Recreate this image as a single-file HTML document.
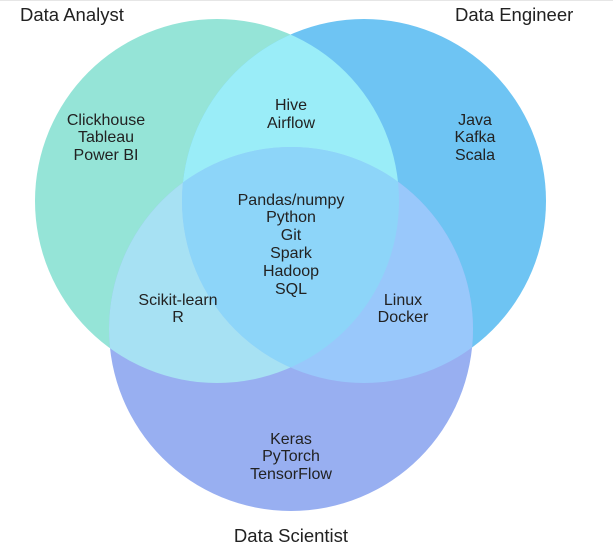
<!DOCTYPE html>
<html><head><style>
html,body{margin:0;padding:0;background:#fff;}
svg{display:block;}
text{font-family:"Liberation Sans",Arial,sans-serif;fill:#222;}
</style></head><body>
<svg width="613" height="548" viewBox="0 0 613 548" xmlns="http://www.w3.org/2000/svg">
<defs>
<clipPath id="cA"><circle cx="217" cy="201" r="182"/></clipPath>
<clipPath id="cE"><circle cx="364" cy="201" r="182"/></clipPath>
<clipPath id="cS"><circle cx="291" cy="329" r="182"/></clipPath>
</defs>
<rect width="613" height="548" fill="#fff"/>
<line x1="0" y1="0.5" x2="613" y2="0.5" stroke="#e6e6e6"/>
<circle cx="217" cy="201" r="182" fill="#95e4d7"/>
<circle cx="364" cy="201" r="182" fill="#6ec4f3"/>
<circle cx="291" cy="329" r="182" fill="#98aff1"/>
<g clip-path="url(#cA)"><circle cx="364" cy="201" r="182" fill="#9aedf8"/></g>
<g clip-path="url(#cA)"><circle cx="291" cy="329" r="182" fill="#a7e1f3"/></g>
<g clip-path="url(#cE)"><circle cx="291" cy="329" r="182" fill="#99c8fb"/></g>
<g clip-path="url(#cA)"><g clip-path="url(#cE)"><circle cx="291" cy="329" r="182" fill="#8dd5f9"/></g></g>
<g font-size="18.5">
<text x="20" y="21">Data Analyst</text>
<text x="455" y="21">Data Engineer</text>
<text x="291" y="542" text-anchor="middle">Data Scientist</text>
</g>
<g font-size="16" text-anchor="middle">
<text x="106" y="125">Clickhouse</text><text x="106" y="142">Tableau</text><text x="106" y="160">Power BI</text>
<text x="291" y="110">Hive</text><text x="291" y="128">Airflow</text>
<text x="475" y="125">Java</text><text x="475" y="142">Kafka</text><text x="475" y="160">Scala</text>
<text x="291" y="205">Pandas/numpy</text><text x="291" y="222">Python</text><text x="291" y="240">Git</text><text x="291" y="258">Spark</text><text x="291" y="276">Hadoop</text><text x="291" y="294">SQL</text>
<text x="178" y="305">Scikit-learn</text><text x="178" y="322">R</text>
<text x="403" y="305">Linux</text><text x="403" y="322">Docker</text>
<text x="291" y="444">Keras</text><text x="291" y="461">PyTorch</text><text x="291" y="479">TensorFlow</text>
</g>
</svg>
</body></html>
